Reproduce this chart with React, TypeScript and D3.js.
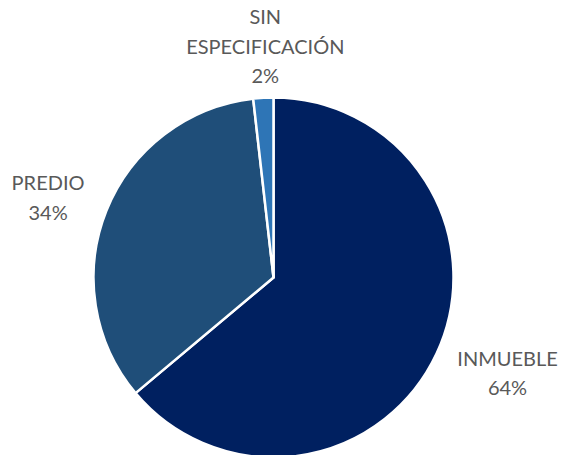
import React from "react";
import * as d3 from "d3";

const categories = ["INMUEBLE", "PREDIO", "SIN ESPECIFICACIÓN"];
const values = [63.9, 34.3, 1.8];
const percentLabels = ["64%", "34%", "2%"];
const labelLines = [["INMUEBLE"], ["PREDIO"], ["SIN", "ESPECIFICACIÓN"]];
const colors = ["#002060", "#1F4E79", "#2E75B6"];

const W = 563;
const H = 455;
const CX = 273.5;
const CY = 277.5;
const R = 180;
const LABEL_R = [253, 239, 231];
const LABEL_DA = [-2.7, -2.4, 1.2];
const LINE_H = 29.5;
const FONT_SIZE = 20;
const CAP = 14;

export default function App() {
  const pie = d3
    .pie<number>()
    .sort(null)
    .value((d) => d)
    .startAngle(0)
    .endAngle(2 * Math.PI);
  const arcs = pie(values);
  const arc = d3.arc<d3.PieArcDatum<number>>().innerRadius(0).outerRadius(R);

  return (
    <svg
      width={W}
      height={H}
      style={{ position: "fixed", left: 0, top: 0, background: "#fff" }}
    >
      <g transform={`translate(${CX},${CY})`}>
        {arcs.map((a, i) => (
          <path
            key={categories[i]}
            d={arc(a) || ""}
            fill={colors[i]}
            stroke="#fff"
            strokeWidth={2.5}
            strokeLinejoin="round"
          />
        ))}
        {arcs.map((a, i) => {
          const mid = (a.startAngle + a.endAngle) / 2 + (LABEL_DA[i] * Math.PI) / 180;
          const x = Math.sin(mid) * LABEL_R[i];
          const y = -Math.cos(mid) * LABEL_R[i];
          const lines = [...labelLines[i], percentLabels[i]];
          const n = lines.length;
          const first = y - ((n - 1) * LINE_H) / 2 + CAP / 2;
          return (
            <text
              key={"l" + i}
              textAnchor="middle"
              fontFamily="Lato, 'Open Sans', sans-serif"
              fontSize={FONT_SIZE}
              fill="#595959"
            >
              {lines.map((t, j) => (
                <tspan key={j} x={x} y={first + j * LINE_H}>
                  {t}
                </tspan>
              ))}
            </text>
          );
        })}
      </g>
    </svg>
  );
}
